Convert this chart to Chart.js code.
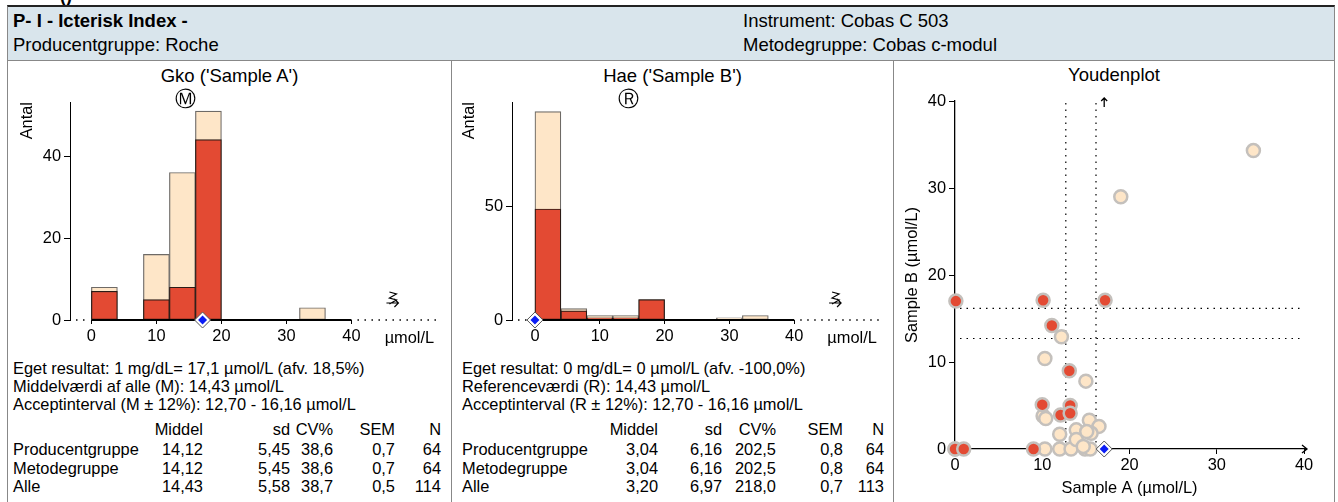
<!DOCTYPE html>
<html>
<head>
<meta charset="utf-8">
<script src="https://cdn.jsdelivr.net/npm/chart.js@4.4.0/dist/chart.umd.min.js"></script>
<style>
body { margin: 0; width: 1338px; height: 502px; overflow: hidden; background: #fff; position: relative;
       font-family: "Liberation Sans", Arial, sans-serif; color: #000; }
.t { position: absolute; white-space: nowrap; line-height: 1; }
.r { text-align: right; }
#header { position: absolute; left: 7px; top: 5px; width: 1326px; height: 53px; background: #d9e5ec;
          border-top: 2px solid #222; border-left: 1px solid #888; border-right: 1px solid #888; border-bottom: 1px solid #666; }
.panel { position: absolute; top: 60px; height: 460px; border: 1px solid #888; box-sizing: border-box; }
canvas { position: absolute; }
.title { font-size: 18.5px; }
.body { font-size: 16.4px; }
</style>
</head>
<body>
<div class="t" style="left:60px;top:-13px;font-size:18px;font-weight:bold">()</div>
<div id="header"></div>
<div class="t" style="left:13px;top:12px;font-size:18.5px;font-weight:bold">P- I - Icterisk Index -</div>
<div class="t" style="left:13px;top:36px;font-size:18.5px">Producentgruppe: Roche</div>
<div class="t" style="left:743px;top:12px;font-size:18.5px">Instrument: Cobas C 503</div>
<div class="t" style="left:743px;top:36px;font-size:18.5px">Metodegruppe: Cobas c-modul</div>

<div class="panel" style="left:7px;width:445px"></div>
<div class="panel" style="left:451px;width:443px"></div>
<div class="panel" style="left:893px;width:442px"></div>

<div class="t title" style="left:7px;width:445px;top:67px;text-align:center">Gko ('Sample A')</div>
<div class="t title" style="left:451px;width:443px;top:67px;text-align:center">Hae ('Sample B')</div>
<div class="t title" style="left:893px;width:442px;top:66px;text-align:center">Youdenplot</div>

<canvas id="histA" width="442" height="290" style="left:8px;top:61px"></canvas>
<canvas id="histB" width="441" height="290" style="left:452px;top:61px"></canvas>
<canvas id="youden" width="440" height="441" style="left:894px;top:61px"></canvas>

<div id="textA"></div>
<div id="textB"></div>

<script>
// histogram bins (µmol/L)
const binStarts = [0, 4, 8, 12, 16, 20, 24, 28, 32, 36];
const binWidth = 4;
// Sample A counts: all participants and producer group
const totalA = [8, 0, 16, 36, 51, 0, 0, 0, 3, 0];
const groupA = [7, 0, 5, 8, 44, 0, 0, 0, 0, 0];
// Sample B counts
const totalB = [92, 5, 2, 2, 9, 0, 0, 1, 2, 0];
const groupB = [49, 4, 1, 1, 9, 0, 0, 0, 0, 0];

const ownA = 17.1;
const ownB = 0;
const meanA = 14.43;
const refB = 14.43;
const acceptLow = 12.70;
const acceptHigh = 16.16;

const histTicks = [0, 10, 20, 30, 40];
const yTicksA = [0, 20, 40];
const yTicksB = [0, 50];
const youdenTicks = [0, 10, 20, 30, 40];

// Youden plot points (Sample A, Sample B)
const youdenGroupA = [0, 1.0, 9.0, 10.1, 10.0, 11.1, 12.1, 13.1, 13.2, 13.2, 17.2, 0.1];
const youdenGroupB = [0, 0, 0, 17.1, 5.1, 14.2, 3.9, 9.0, 5.0, 4.1, 17.1, 17.0];
const youdenOtherA = [0, 10.3, 12.0, 13.3, 14.9, 15.5, 12.2, 10.3, 15.0, 10.1, 10.4, 12.0, 13.9, 15.4, 16.5, 15.6, 13.9, 15.1, 14.7, 19.0, 34.2];
const youdenOtherB = [0, 0, 0, 0, 0, 0, 12.9, 10.4, 7.8, 3.8, 3.5, 1.7, 2.2, 3.3, 2.6, 1.8, 1.1, 2.0, 0.3, 29.0, 34.3];

// text below histograms
const infoA = ['Eget resultat: 1 mg/dL= 17,1 µmol/L (afv. 18,5%)',
               'Middelværdi af alle (M): 14,43 µmol/L',
               'Acceptinterval (M ± 12%): 12,70 - 16,16 µmol/L'];
const infoB = ['Eget resultat: 0 mg/dL= 0 µmol/L (afv. -100,0%)',
               'Referenceværdi (R): 14,43 µmol/L',
               'Acceptinterval (R ± 12%): 12,70 - 16,16 µmol/L'];
const statHeaders = ['Middel', 'sd', 'CV%', 'SEM', 'N'];
const statRows = ['Producentgruppe', 'Metodegruppe', 'Alle'];
const statsA = [['14,12', '5,45', '38,6', '0,7', '64'],
                ['14,12', '5,45', '38,6', '0,7', '64'],
                ['14,43', '5,58', '38,7', '0,5', '114']];
const statsB = [['3,04', '6,16', '202,5', '0,8', '64'],
                ['3,04', '6,16', '202,5', '0,8', '64'],
                ['3,20', '6,97', '218,0', '0,7', '113']];

const RED = '#e34a33';
const PEACH = '#fee6c8';
const FONT = '"Liberation Sans", Arial, sans-serif';

Chart.defaults.font.family = FONT;
Chart.defaults.color = '#000';

function writeText(id, left, colRights, info, stats) {
    let html = '';
    info.forEach((line, i) => {
        html += `<div class="t body" style="left:${left}px;top:${360 + i * 18}px">${line}</div>`;
    });
    statHeaders.forEach((h, c) => {
        html += `<div class="t body r" style="left:${colRights[c] - 100}px;width:100px;top:421px">${h}</div>`;
    });
    statRows.forEach((name, r) => {
        const top = 441 + r * 18.5;
        html += `<div class="t body" style="left:${left}px;top:${top}px">${name}</div>`;
        stats[r].forEach((v, c) => {
            html += `<div class="t body r" style="left:${colRights[c] - 100}px;width:100px;top:${top}px">${v}</div>`;
        });
    });
    document.getElementById(id).innerHTML = html;
}

// squiggly "off scale" arrow
function drawOffScale(ctx, cx, cy) {
    ctx.save();
    ctx.translate(cx, cy);
    ctx.strokeStyle = '#000';
    ctx.lineWidth = 1.2;
    ctx.beginPath();
    ctx.moveTo(-3, -8);
    ctx.lineTo(4, -6);
    ctx.lineTo(-3, -2);
    ctx.lineTo(4, 0);
    ctx.lineTo(-3, 4);
    ctx.moveTo(-6, 3);
    ctx.lineTo(6, 3);
    ctx.moveTo(2, -1);
    ctx.lineTo(6, 3);
    ctx.lineTo(2, 7);
    ctx.stroke();
    ctx.restore();
}

const histDecor = {
    id: 'histDecor',
    afterDatasetDraw(chart, args) {
        // baseline drawn right after the red bars, under the own-result diamond
        if (args.index !== 0) return;
        const { ctx, chartArea } = chart;
        const x = chart.scales.x, y0 = chart.scales.y.getPixelForValue(0);
        ctx.save();
        ctx.strokeStyle = '#000';
        ctx.lineWidth = 2;
        ctx.beginPath();
        ctx.moveTo(x.getPixelForValue(0), y0);
        ctx.lineTo(x.getPixelForValue(40), y0);
        ctx.stroke();
        ctx.lineWidth = 1.5;
        ctx.setLineDash([1.5, 5.5]);
        ctx.beginPath();
        ctx.moveTo(chartArea.left + 6, y0);
        ctx.lineTo(x.getPixelForValue(0) - 4, y0);
        ctx.moveTo(x.getPixelForValue(40) + 6, y0);
        ctx.lineTo(chartArea.right, y0);
        ctx.stroke();
        ctx.restore();
    },
    afterDraw(chart, args, opts) {
        const { ctx, chartArea } = chart;
        const x = chart.scales.x, y0 = chart.scales.y.getPixelForValue(0);
        ctx.save();
        ctx.fillStyle = '#000';
        // circled marker for mean / reference value
        ctx.textAlign = 'center';
        ctx.textBaseline = 'middle';
        ctx.font = '21px "DejaVu Sans"';
        ctx.fillText(opts.mark, x.getPixelForValue(opts.markValue), chartArea.top - 1);
        drawOffScale(ctx, x.getPixelForValue(46.3), y0 - 20);
        // unit
        ctx.font = '16.4px ' + FONT;
        ctx.textAlign = 'left';
        ctx.fillText('µmol/L', x.getPixelForValue(45.1), chartArea.bottom + 18);
        // y title
        ctx.translate(chartArea.left - 43, chartArea.top);
        ctx.rotate(-Math.PI / 2);
        ctx.textAlign = 'right';
        ctx.fillText('Antal', 0, 0);
        ctx.restore();
    }
};

function histChart(id, total, group, own, yTicks, yMax, xMin, xMax, yWidth, mark, markValue) {
    const toXY = arr => arr.map((v, i) => ({ x: binStarts[i] + binWidth / 2, y: v }));
    const barBase = { grouped: false, categoryPercentage: 1, barPercentage: 1, borderSkipped: false };
    return new Chart(document.getElementById(id), {
        type: 'bar',
        data: {
            datasets: [
                Object.assign({ data: toXY(group), backgroundColor: RED, borderColor: '#2b1b16', borderWidth: 1.2, order: 1 }, barBase),
                Object.assign({ data: toXY(total), backgroundColor: PEACH, borderColor: '#6e6a66', borderWidth: 1.2, order: 2 }, barBase),
                { type: 'scatter', data: [{ x: own, y: 0 }], pointStyle: 'rectRot', pointRadius: 8,
                  backgroundColor: '#fff', borderColor: '#555', borderWidth: 1, order: 0, clip: false },
                { type: 'scatter', data: [{ x: own, y: 0 }], pointStyle: 'rectRot', pointRadius: 4.5,
                  backgroundColor: '#0b1df5', borderWidth: 0, order: -1, clip: false }
            ]
        },
        options: {
            responsive: false,
            animation: false,
            layout: { padding: { top: 41, right: 7, left: 0, bottom: 0 } },
            plugins: { legend: { display: false }, tooltip: { enabled: false },
                       histDecor: { mark, markValue } },
            scales: {
                x: {
                    type: 'linear', min: xMin, max: xMax, offset: false,
                    afterBuildTicks: s => { s.ticks = histTicks.map(v => ({ value: v })); },
                    afterFit: s => { s.height = 31; },
                    grid: { drawOnChartArea: false, tickLength: 4, color: '#000', offset: false },
                    border: { display: false },
                    ticks: { font: { size: 16.4 }, padding: 3, maxRotation: 0, autoSkip: false }
                },
                y: {
                    min: 0, max: yMax,
                    afterBuildTicks: s => { s.ticks = yTicks.map(v => ({ value: v })); },
                    afterFit: s => { s.width = yWidth; },
                    grid: { drawOnChartArea: false, tickLength: 6, color: '#000' },
                    border: { display: true, color: '#000', width: 1 },
                    ticks: { font: { size: 16.4 }, padding: 3 }
                }
            }
        },
        plugins: [histDecor]
    });
}

const youdenDecor = {
    id: 'youdenDecor',
    beforeDatasetsDraw(chart) {
        const { ctx } = chart;
        const x = chart.scales.x, y = chart.scales.y;
        ctx.save();
        ctx.strokeStyle = '#000';
        ctx.lineWidth = 1.2;
        ctx.setLineDash([1.5, 5]);
        ctx.beginPath();
        [acceptLow, acceptHigh].forEach(v => {
            ctx.moveTo(x.getPixelForValue(v), y.getPixelForValue(0));
            ctx.lineTo(x.getPixelForValue(v), y.getPixelForValue(40) + 2);
            ctx.moveTo(x.getPixelForValue(0) + 5, y.getPixelForValue(v));
            ctx.lineTo(x.getPixelForValue(40), y.getPixelForValue(v));
        });
        ctx.stroke();
        ctx.restore();
    },
    afterDraw(chart) {
        const { ctx } = chart;
        const x = chart.scales.x, y = chart.scales.y;
        const xr = x.getPixelForValue(40) + 3, y0 = y.getPixelForValue(0);
        const xo = x.getPixelForValue(ownA), yt = y.getPixelForValue(40);
        ctx.save();
        ctx.strokeStyle = '#000';
        ctx.lineWidth = 1.3;
        ctx.beginPath();
        // arrow at the end of the x axis
        ctx.moveTo(x.getPixelForValue(40), y0);
        ctx.lineTo(xr, y0);
        ctx.moveTo(xr - 5, y0 - 4);
        ctx.lineTo(xr, y0);
        ctx.lineTo(xr - 5, y0 + 4);
        // small arrow on top at the own Sample A result
        ctx.moveTo(xo, yt + 6);
        ctx.lineTo(xo, yt - 3);
        ctx.moveTo(xo - 3, yt);
        ctx.lineTo(xo, yt - 3);
        ctx.lineTo(xo + 3, yt);
        ctx.stroke();
        ctx.restore();
    }
};

const toPairs = (xs, ys) => xs.map((v, i) => ({ x: v, y: ys[i] }));

new Chart(document.getElementById('youden'), {
    type: 'scatter',
    data: {
        datasets: [
            { data: toPairs(youdenOtherA, youdenOtherB), backgroundColor: PEACH, borderColor: '#c4c0bc',
              borderWidth: 2.5, pointRadius: 6.5, order: 3, clip: false },
            { data: toPairs(youdenGroupA, youdenGroupB), backgroundColor: RED, borderColor: '#c4c0bc',
              borderWidth: 2.5, pointRadius: 6.5, order: 2, clip: false },
            { data: [{ x: ownA, y: ownB }], pointStyle: 'rectRot', pointRadius: 8,
              backgroundColor: '#fff', borderColor: '#555', borderWidth: 1, order: 1, clip: false },
            { data: [{ x: ownA, y: ownB }], pointStyle: 'rectRot', pointRadius: 4.5,
              backgroundColor: '#0b1df5', borderWidth: 0, order: 0, clip: false }
        ]
    },
    options: {
        responsive: false,
        animation: false,
        layout: { padding: { top: 40, right: 30, left: 5, bottom: 0 } },
        plugins: { legend: { display: false }, tooltip: { enabled: false } },
        scales: {
            x: {
                type: 'linear', min: 0, max: 40,
                afterBuildTicks: s => { s.ticks = youdenTicks.map(v => ({ value: v })); },
                afterFit: s => { s.height = 53; },
                grid: { drawOnChartArea: false, tickLength: 5, color: '#000' },
                border: { display: true, color: '#000', width: 1.3 },
                ticks: { font: { size: 16.4 }, padding: 2 },
                title: { display: true, text: 'Sample A (µmol/L)', font: { size: 16.4 }, padding: { top: 0, bottom: 4 } }
            },
            y: {
                min: 0, max: 40,
                afterBuildTicks: s => { s.ticks = youdenTicks.map(v => ({ value: v })); },
                afterFit: s => { s.width = 56; },
                grid: { drawOnChartArea: false, tickLength: 6, color: '#000' },
                border: { display: true, color: '#000', width: 1.3 },
                ticks: { font: { size: 16.4 }, padding: 3 },
                title: { display: true, text: 'Sample B (µmol/L)', font: { size: 16.4 }, padding: { top: 4, bottom: 0 } }
            }
        }
    },
    plugins: [youdenDecor]
});

histChart('histA', totalA, groupA, ownA, yTicksA, 53.2, -3.29, 53.77, 62, 'Ⓜ', meanA);
histChart('histB', totalB, groupB, ownB, yTicksB, 96.2, -3.54, 53.85, 60, 'Ⓡ', refB);

writeText('textA', 13, [203, 290, 333, 395, 441], infoA, statsA);
writeText('textB', 462, [658, 722, 776, 843, 884], infoB, statsB);
</script>
</body>
</html>
